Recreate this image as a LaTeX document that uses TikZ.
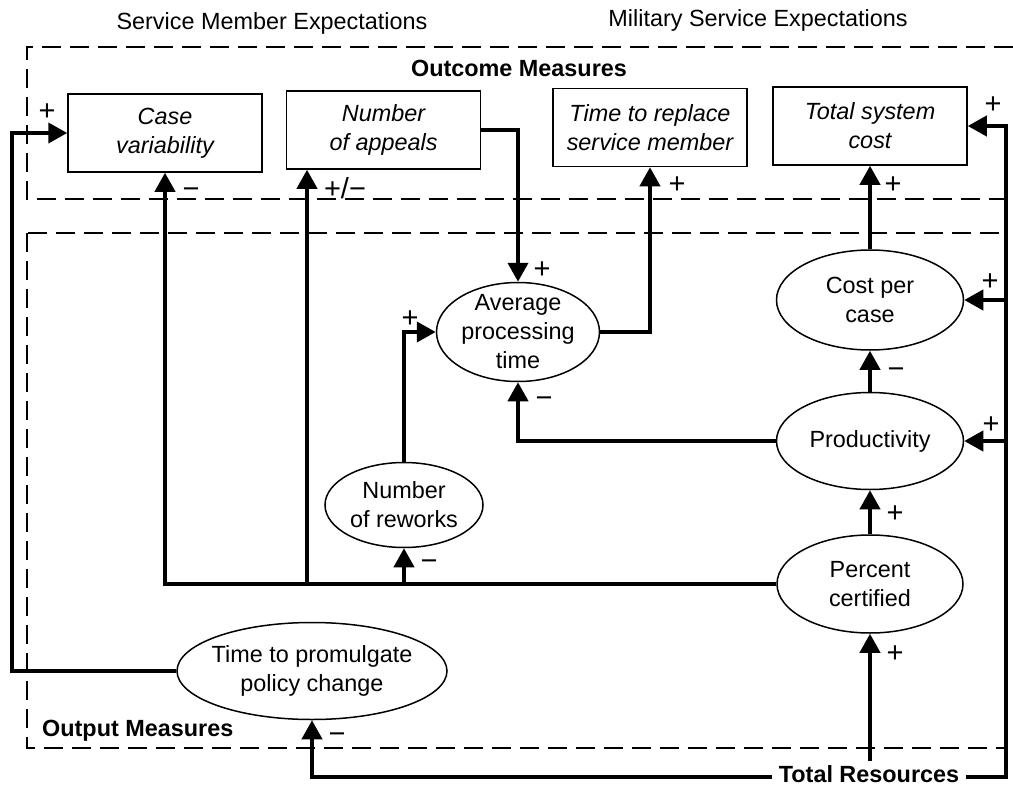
\documentclass[tikz,border=0pt]{standalone}
\usepackage{fontspec}
\setmainfont{Liberation Sans}
\usetikzlibrary{arrows.meta,shapes.geometric}

\begin{document}
\begin{tikzpicture}[x=1pt,y=-1pt,
  every node/.style={font=\fontsize{23.4}{29}\selectfont},
  msrbox/.style={draw, line width=1.5pt, rectangle, minimum width=194pt, minimum height=78pt,
    inner sep=0pt, align=center, font=\fontsize{23.4}{29}\selectfont\itshape},
  factorell/.style={draw, line width=1.5pt, ellipse, inner sep=0pt, inner xsep=-25pt,
    inner ysep=-12pt, align=center},
  flow/.style={line width=4pt, -{Triangle[length=19pt,width=20pt]}},
  zone/.style={line width=1.3pt, dash pattern=on 19pt off 9pt},
  signlbl/.style={anchor=base, inner sep=0pt, font=\fontsize{29}{34}\selectfont},
  titlelbl/.style={anchor=base, inner sep=0pt},
  boldlbl/.style={font=\fontsize{23.4}{29}\selectfont\bfseries},
]
\useasboundingbox (0,0) rectangle (1013,787);

% measure regions
\draw[zone] (1013,47) -- (27,47) -- (27,199) -- (1013,199);
\draw[zone] (27,233) rectangle (1006,748);

% headings
\node[titlelbl] (sme) at (272,30) {Service Member Expectations};
\node[titlelbl] (mse) at (758,27) {Military Service Expectations};
\node[titlelbl, boldlbl] (om) at (519,76) {Outcome Measures};
\node[titlelbl, boldlbl, anchor=base west] (outm) at (42,736) {Output Measures};

% outcome measures
\node[msrbox] (cv)  at (165,133)   {Case\\variability};
\node[msrbox] (na)  at (383.5,130) {Number\\of appeals};
\node[msrbox] (trm) at (650,127.5) {Time to replace\\service member};
\node[msrbox] (ts)  at (870,126)   {Total system\\cost};

% output measures
\node[factorell, minimum width=163pt, minimum height=99pt]  (apt) at (518,332) {Average\\processing\\time};
\node[factorell, minimum width=187pt, minimum height=100pt] (cc)  at (870,300) {Cost per\\case};
\node[factorell, minimum width=187pt, minimum height=97pt]  (pr)  at (870,441) {Productivity};
\node[factorell, minimum width=186pt, minimum height=98pt]  (pc)  at (870,584) {Percent\\certified};
\node[factorell, minimum width=158pt, minimum height=85pt]  (nr)  at (404,505) {Number\\of reworks};
\node[factorell, minimum width=270pt, minimum height=97pt]  (tp)  at (312,671) {Time to promulgate\\policy change};

% total resources
\node[titlelbl, boldlbl, inner xsep=7pt, inner ysep=4pt] (tr) at (869,782) {Total Resources};
\coordinate (trw) at ([yshift=5pt]tr.base west);
\coordinate (tre) at ([yshift=5pt]tr.base east);
\coordinate (bus) at (1006,777);
\coordinate (lft) at (12,671);
\coordinate (jna) at (307,584);

% connectors
\draw[flow] (pc.west) -- (cv.south |- pc.west) -- (cv.south);
\draw[flow] (jna) -- (jna |- na.south);
\draw[flow] (nr.south |- pc.west) -- (nr.south);
\draw[flow] (tp.west) -- (lft) -- (lft |- cv.west) -- (cv.west);
\draw[flow] (trw) -- (tp.south |- trw) -- (tp.south);
\draw[flow] (tre) -- (bus) -- (bus |- ts.east) -- (ts.east);
\draw[flow] (bus |- cc.east) -- (cc.east);
\draw[flow] (bus |- pr.east) -- (pr.east);
\draw[flow] (pc.south |- tr.north) -- (pc.south);
\draw[flow] (pc.north) -- (pr.south);
\draw[flow] (pr.north) -- (cc.south);
\draw[flow] (cc.north) -- (ts.south);
\draw[flow] (pr.west) -| (apt.south);
\draw[flow] (apt.east) -| (trm.south);
\draw[flow] (na.east) -| (apt.north);
\draw[flow] (nr.north) |- (apt.west);

% polarity signs
\node[signlbl] (s1)  at (47,120)  {+};
\node[signlbl] (s2)  at (191,198) {−};
\node[signlbl] (s3)  at (345,198) {+/−};
\node[signlbl] (s4)  at (542,278) {+};
\node[signlbl] (s5)  at (410,327) {+};
\node[signlbl] (s6)  at (544,407) {−};
\node[signlbl] (s7)  at (677,193) {+};
\node[signlbl] (s8)  at (893,193) {+};
\node[signlbl] (s9)  at (993,113) {+};
\node[signlbl] (s10) at (990,290) {+};
\node[signlbl] (s11) at (896,378) {−};
\node[signlbl] (s12) at (991,433) {+};
\node[signlbl] (s13) at (895,522) {+};
\node[signlbl] (s14) at (895,662) {+};
\node[signlbl] (s15) at (429,570) {−};
\node[signlbl] (s16) at (337,743) {−};
\end{tikzpicture}
\end{document}
